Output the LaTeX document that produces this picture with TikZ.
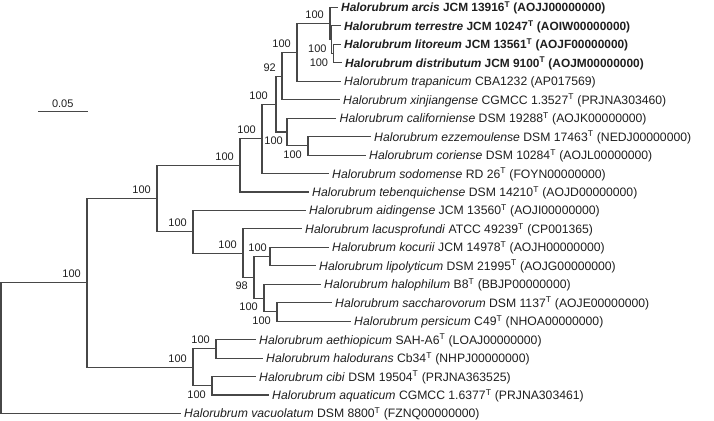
\documentclass[tikz,border=0pt]{standalone}
\usepackage{fontspec}
\setmainfont{Liberation Sans}
\usetikzlibrary{calc}
\newcommand{\spfont}{\fontsize{12.2}{15}\selectfont}
\newcommand{\spbfont}{\fontsize{11.9}{15}\selectfont\bfseries}
\newcommand{\bsfont}{\fontsize{11}{13}\selectfont}
\newcommand{\tstrain}{\textsuperscript{T}}
\tikzset{
  branch/.style={line width=1.1pt, draw=black!72},
  taxon/.style={anchor=west, inner xsep=3.5pt, inner ysep=0pt, text height=9pt, text depth=0pt, font=\spfont, text=black!88},
  taxonb/.style={taxon, font=\spbfont},
  boot/.style={anchor=east, inner sep=0pt, font=\bsfont, text=black!88},
  bootup/.style={boot, xshift=-6pt, yshift=8.7pt},
  bootdn/.style={boot, xshift=-6pt, yshift=-8.7pt},
}
\begin{document}
\begin{tikzpicture}[x=1pt, y=-1pt]
  \useasboundingbox (0,0) rectangle (714,420);

  % TIPS
  \coordinate (t0)  at (337.5,7.5);
  \coordinate (t1)  at (340.5,25.95);
  \coordinate (t2)  at (340.5,44.4);
  \coordinate (t3)  at (341.5,62.85);
  \coordinate (t4)  at (340.5,81.3);
  \coordinate (t5)  at (339.5,99.75);
  \coordinate (t6)  at (336,118.2);
  \coordinate (t7)  at (370.5,136.65);
  \coordinate (t8)  at (365.5,155.1);
  \coordinate (t9)  at (328.5,173.55);
  \coordinate (t10) at (308.5,192);
  \coordinate (t11) at (305.5,210.45);
  \coordinate (t12) at (301.5,228.9);
  \coordinate (t13) at (328.5,247.35);
  \coordinate (t14) at (315.5,265.8);
  \coordinate (t15) at (320.5,284.25);
  \coordinate (t16) at (331.5,302.7);
  \coordinate (t17) at (350.5,321.15);
  \coordinate (t18) at (255.5,339.6);
  \coordinate (t19) at (262.5,358.05);
  \coordinate (t20) at (255.5,376.5);
  \coordinate (t21) at (268.5,394.95);
  \coordinate (t22) at (180.5,413.4);

  % TAXA
  \node[taxonb] (arcis)     at (t0)  {\textit{Halorubrum arcis} JCM 13916\tstrain{} (AOJJ00000000)};
  \node[taxonb] (terrestre) at (t1)  {\textit{Halorubrum terrestre} JCM 10247\tstrain{} (AOIW00000000)};
  \node[taxonb] (litoreum)  at (t2)  {\textit{Halorubrum litoreum} JCM 13561\tstrain{} (AOJF00000000)};
  \node[taxonb] (distrib)   at (t3)  {\textit{Halorubrum distributum} JCM 9100\tstrain{} (AOJM00000000)};
  \node[taxon] (trapan)    at (t4)  {\textit{Halorubrum trapanicum} CBA1232 (AP017569)};
  \node[taxon] (xinjiang)  at (t5)  {\textit{Halorubrum xinjiangense} CGMCC 1.3527\tstrain{} (PRJNA303460)};
  \node[taxon] (californ)  at (t6)  {\textit{Halorubrum californiense} DSM 19288\tstrain{} (AOJK00000000)};
  \node[taxon] (ezzemoul)  at (t7)  {\textit{Halorubrum ezzemoulense} DSM 17463\tstrain{} (NEDJ00000000)};
  \node[taxon] (coriense)  at (t8)  {\textit{Halorubrum coriense} DSM 10284\tstrain{} (AOJL00000000)};
  \node[taxon] (sodomense) at (t9)  {\textit{Halorubrum sodomense} RD 26\tstrain{} (FOYN00000000)};
  \node[taxon] (tebenq)    at (t10) {\textit{Halorubrum tebenquichense} DSM 14210\tstrain{} (AOJD00000000)};
  \node[taxon] (aidingen)  at (t11) {\textit{Halorubrum aidingense} JCM 13560\tstrain{} (AOJI00000000)};
  \node[taxon] (lacuspro)  at (t12) {\textit{Halorubrum lacusprofundi} ATCC 49239\tstrain{} (CP001365)};
  \node[taxon] (kocurii)   at (t13) {\textit{Halorubrum kocurii} JCM 14978\tstrain{} (AOJH00000000)};
  \node[taxon] (lipolyt)   at (t14) {\textit{Halorubrum lipolyticum} DSM 21995\tstrain{} (AOJG00000000)};
  \node[taxon] (halophil)  at (t15) {\textit{Halorubrum halophilum} B8\tstrain{} (BBJP00000000)};
  \node[taxon] (sacchar)   at (t16) {\textit{Halorubrum saccharovorum} DSM 1137\tstrain{} (AOJE00000000)};
  \node[taxon] (persicum)  at (t17) {\textit{Halorubrum persicum} C49\tstrain{} (NHOA00000000)};
  \node[taxon] (aethiop)   at (t18) {\textit{Halorubrum aethiopicum} SAH-A6\tstrain{} (LOAJ00000000)};
  \node[taxon] (halodur)   at (t19) {\textit{Halorubrum halodurans} Cb34\tstrain{} (NHPJ00000000)};
  \node[taxon] (cibi)      at (t20) {\textit{Halorubrum cibi} DSM 19504\tstrain{} (PRJNA363525)};
  \node[taxon] (aquatic)   at (t21) {\textit{Halorubrum aquaticum} CGMCC 1.6377\tstrain{} (PRJNA303461)};
  \node[taxon] (vacuol)    at (t22) {\textit{Halorubrum vacuolatum} DSM 8800\tstrain{} (FZNQ00000000)};

  % INNER NODES
  \coordinate (M)  at (333.3,53.6);
  \coordinate (L)  at (331.7,39.8);
  \coordinate (E)  at (330,23.6);
  \coordinate (F)  at (297,52.5);
  \coordinate (G)  at (282,76.1);
  \coordinate (K)  at (308,145.9);
  \coordinate (J)  at (287,132);
  \coordinate (H)  at (276,104.1);
  \coordinate (I)  at (262,138.8);
  \coordinate (B1) at (240,165.4);
  \coordinate (P)  at (270,256.6);
  \coordinate (R)  at (277,311.9);
  \coordinate (Q)  at (264,298.1);
  \coordinate (O)  at (254,277.3);
  \coordinate (N)  at (243,253.1);
  \coordinate (B2) at (193,231.8);
  \coordinate (B)  at (157,198.6);
  \coordinate (C1) at (216,348.8);
  \coordinate (C2) at (212,385.7);
  \coordinate (C)  at (193,367.3);
  \coordinate (A)  at (87,282.9);
  \coordinate (root) at (1,348.2);

  % BRANCHES
  \draw[branch] (t2) -| (M) |- (t3);
  \draw[branch] (t1) -| (L) |- (M);
  \draw[branch] (t0) -| (E) |- (L);
  \draw[branch] (E) -| (F) |- (t4);
  \draw[branch] (F) -| (G) |- (t5);
  \draw[branch] (t7) -| (K) |- (t8);
  \draw[branch] (t6) -| (J) |- (K);
  \draw[branch] (G) -| (H) |- (J);
  \draw[branch] (H) -| (I) |- (t9);
  \draw[branch] (I) -| (B1) |- (t10);
  \draw[branch] (t13) -| (P) |- (t14);
  \draw[branch] (t16) -| (R) |- (t17);
  \draw[branch] (t15) -| (Q) |- (R);
  \draw[branch] (P) -| (O) |- (Q);
  \draw[branch] (t12) -| (N) |- (O);
  \draw[branch] (t11) -| (B2) |- (N);
  \draw[branch] (B1) -| (B) |- (B2);
  \draw[branch] (t18) -| (C1) |- (t19);
  \draw[branch] (t20) -| (C2) |- (t21);
  \draw[branch] (C1) -| (C) |- (C2);
  \draw[branch] (B) -| (A) |- (C);
  \draw[branch] (A) -| (root) |- (t22);

  % SUPPORT VALUES
  \node[bootdn, xshift=1pt] (bM) at (M)  {100};
  \node[bootdn, xshift=1pt] (bL) at (L)  {100};
  \node[bootup] (bE)  at (E)  {100};
  \node[bootup] (bF)  at (F)  {100};
  \node[bootup] (bG)  at (G)  {92};
  \node[bootup, xshift=-2pt] (bH)  at (H)  {100};
  \node[bootdn, xshift=2pt] (bJ)  at (J)  {100};
  \node[bootdn] (bK)  at (K)  {100};
  \node[bootup] (bI)  at (I)  {100};
  \node[bootup] (bB1) at (B1) {100};
  \node[bootup, xshift=3pt] (bP) at (P) {100};
  \node[bootdn] (bR)  at (R)  {100};
  \node[bootdn] (bQ)  at (Q)  {100};
  \node[bootdn] (bO)  at (O)  {98};
  \node[bootup] (bN)  at (N)  {100};
  \node[bootup] (bB2) at (B2) {100};
  \node[bootup] (bB)  at (B)  {100};
  \node[bootup] (bC1) at (C1) {100};
  \node[bootdn] (bC2) at (C2) {100};
  \node[bootup] (bC)  at (C)  {100};
  \node[bootup] (bA)  at (A)  {100};

  % SCALE BAR
  \coordinate (sb1) at (38,111.5);
  \coordinate (sb2) at (87.5,111.5);
  \draw[branch] (sb1) -- (sb2);
  \node[boot, anchor=south] (sblab) at ($(sb1)!0.5!(sb2)+(0,-3.5)$) {0.05};
\end{tikzpicture}
\end{document}
